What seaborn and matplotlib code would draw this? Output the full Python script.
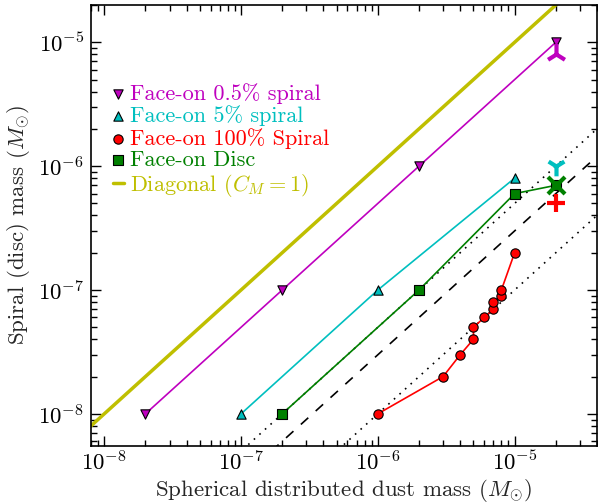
import matplotlib
matplotlib.use("Agg")
import matplotlib.pyplot as plt
import seaborn as sns
import numpy as np
import pandas as pd

# Face-on 0.5% spiral
spiral05_x = [2e-8, 2e-7, 2e-6, 2e-5]
spiral05_y = [1e-8, 1e-7, 1e-6, 1e-5]
# Face-on 5% spiral
spiral5_x = [1e-7, 1e-6, 1e-5]
spiral5_y = [1e-8, 1e-7, 8e-7]
# Face-on 100% spiral
spiral100_x = [1e-6, 3e-6, 4e-6, 5e-6, 5e-6, 6e-6, 7e-6, 7e-6, 8e-6, 8e-6, 1e-5]
spiral100_y = [1e-8, 2e-8, 3e-8, 4e-8, 5e-8, 6e-8, 7e-8, 8e-8, 9e-8, 1e-7, 2e-7]
# Face-on disc
disc_x = [2e-7, 2e-6, 1e-5, 2e-5]
disc_y = [1e-8, 1e-7, 6e-7, 7e-7]
# single extra models at the high-mass end
extra_x = [2e-5, 2e-5, 2e-5, 2e-5]
extra_y = [8e-6, 1e-6, 7e-7, 5e-7]
extra_colors = ["m", "c", "g", "r"]
extra_markers = ["2", "1", "x", "+"]
# reference relations y = C x
diag_x = [1e-9, 1e-4]
ratio_dashed = 0.03
ratios_dotted = [0.05, 0.01]

labels = ["Face-on 0.5% spiral", "Face-on 5% spiral", "Face-on 100% Spiral",
          "Face-on Disc", r"Diagonal ($C_M = 1$)"]

sns.set_style("ticks")
plt.rcParams["font.family"] = ["cmr10", "DejaVu Serif"]
plt.rcParams["mathtext.fontset"] = "cm"
plt.rcParams["axes.formatter.use_mathtext"] = True
plt.rcParams["axes.unicode_minus"] = False

fig = plt.figure(figsize=(5.98, 5.04), dpi=100)
ax = fig.add_axes([91 / 598, 58 / 504, 506 / 598, 441 / 504])
ax.set_xscale("log")
ax.set_yscale("log")

# reference lines
ref_x = np.array(diag_x)
sns.lineplot(x=ref_x, y=ratio_dashed * ref_x, ax=ax, color="k", lw=1.2,
             linestyle=(0, (6, 6)), zorder=1)
for r in ratios_dotted:
    sns.lineplot(x=ref_x, y=r * ref_x, ax=ax, color="k", lw=1.2,
                 linestyle=(0, (1, 3.5)), zorder=1)
sns.lineplot(x=ref_x, y=ref_x, ax=ax, color="y", lw=2.5, label=labels[4], zorder=2)

series = [
    (spiral05_x, spiral05_y, "m", "v"),
    (spiral5_x, spiral5_y, "c", "^"),
    (spiral100_x, spiral100_y, "r", "o"),
    (disc_x, disc_y, "g", "s"),
]
for (xs, ys, col, mk), lab in zip(series, labels[:4]):
    df = pd.DataFrame({"x": xs, "y": ys})
    sns.lineplot(data=df, x="x", y="y", ax=ax, color=col, lw=1.2,
                 sort=False, estimator=None, zorder=3)
    sns.scatterplot(data=df, x="x", y="y", ax=ax, color=col, marker=mk, s=45,
                    edgecolor="k", linewidth=0.8, label=lab, zorder=4)

sizes = [230, 200, 150, 170]
for xv, yv, col, mk, sz in zip(extra_x, extra_y, extra_colors, extra_markers, sizes):
    sns.scatterplot(x=[xv], y=[yv], ax=ax, color=col, marker=mk, s=sz,
                    linewidth=3, zorder=5)

ax.set_xlim(8e-9, 4e-5)
ax.set_ylim(5.5e-9, 2e-5)

ax.set_xlabel(r"Spherical distributed dust mass ($M_{\odot}$)", fontsize=16.5, va="center")
ax.xaxis.set_label_coords(0.5, -0.1)
ax.set_ylabel(r"Spiral (disc) mass ($M_{\odot}$)", fontsize=16.5, labelpad=4)

ax.tick_params(which="both", direction="in", top=True, right=True, colors="k")
ax.tick_params(which="major", length=7, width=1, labelsize=16.5)
ax.tick_params(axis="x", which="major", pad=3)
ax.tick_params(axis="y", which="major", pad=5)
ax.tick_params(which="minor", length=4, width=1)
for sp in ax.spines.values():
    sp.set_color("k")
    sp.set_linewidth(1.2)

handles, labs = ax.get_legend_handles_labels()
order = [labs.index(l) for l in labels]
leg = ax.legend([handles[i] for i in order], [labs[i] for i in order],
                loc="upper left", bbox_to_anchor=(0.025, 0.844), frameon=False,
                fontsize=16, handlelength=0.5, handletextpad=0.3,
                labelspacing=0.08, borderaxespad=0, scatterpoints=1)
for txt, col in zip(leg.get_texts(), ["m", "c", "r", "g", "y"]):
    txt.set_color(col)

fig.savefig("out.png", dpi=100)
